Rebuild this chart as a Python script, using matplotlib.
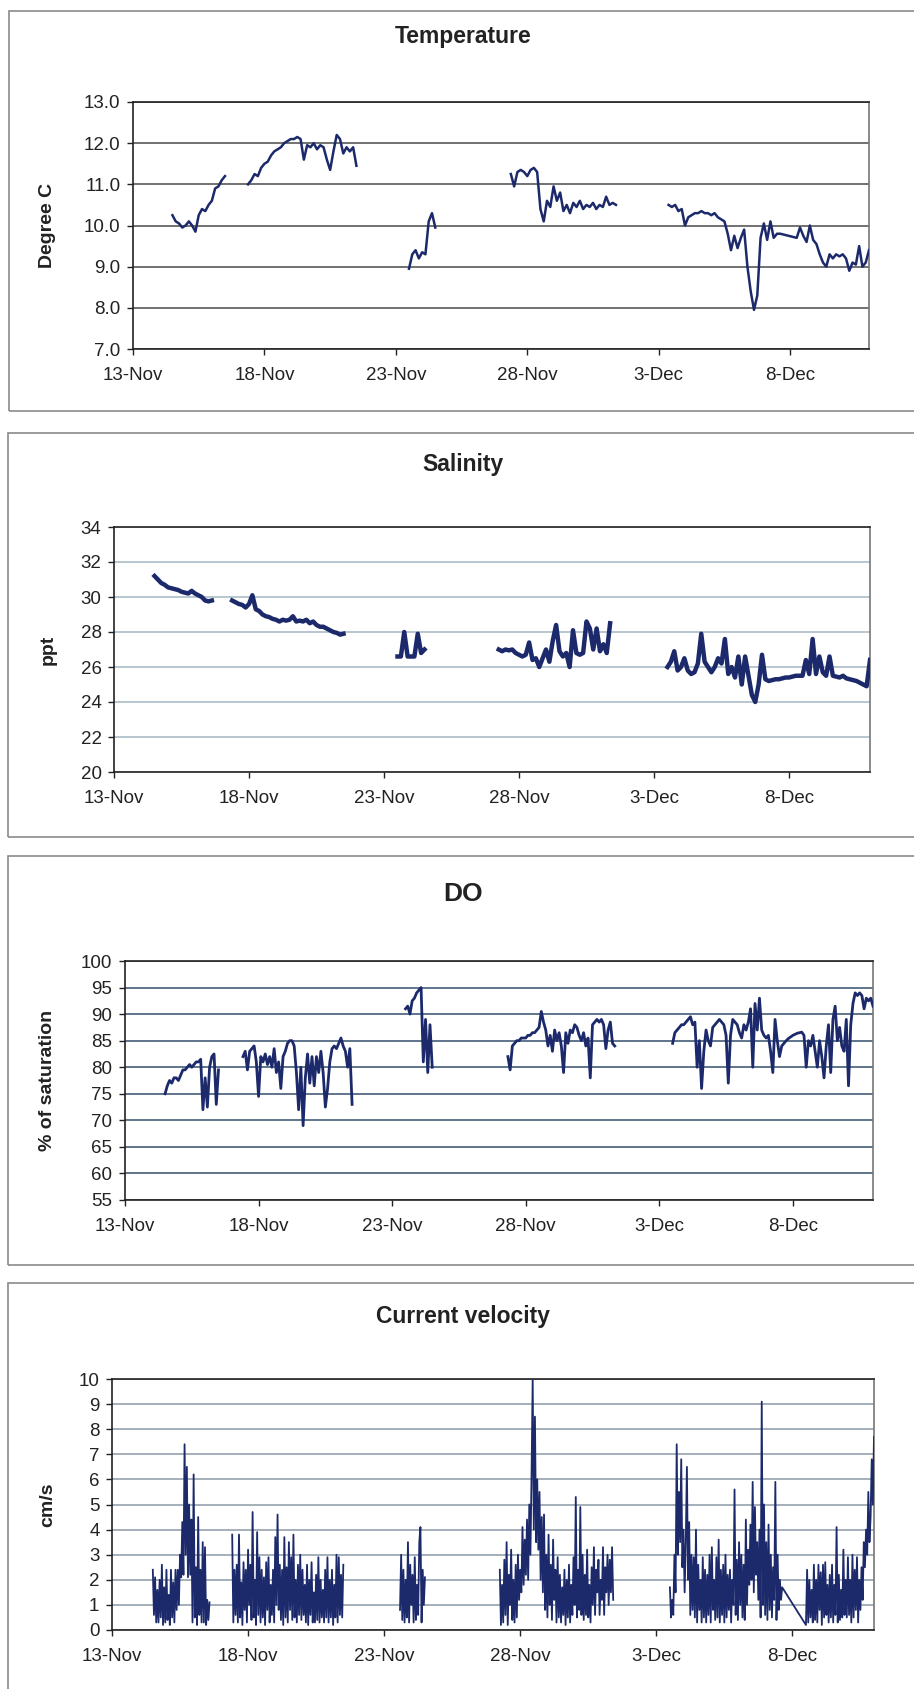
import matplotlib
matplotlib.use('Agg')
import matplotlib.pyplot as plt
import matplotlib.dates as mdates
from matplotlib.patches import Rectangle
import numpy as np
import pandas as pd

plt.rcParams['font.family'] = ['Liberation Sans', 'DejaVu Sans']

LINE = '#1c2a6b'

# --- data: each series is a list of logger segments (start time, fixed step) ---
temp_starts = ['2004-11-14 12:00', '2004-11-17 09:00', '2004-11-23 12:00',
               '2004-11-27 09:00', '2004-12-03 09:00']
temp_step_h = 3
temp_vals = [
    [10.25, 10.1, 10.05, 9.95, 10.0, 10.1, 10.0, 9.85, 10.25, 10.4, 10.35, 10.5,
     10.6, 10.9, 10.95, 11.1, 11.2],
    [11.0, 11.1, 11.25, 11.2, 11.4, 11.5, 11.55, 11.7, 11.8, 11.85, 11.9, 12.0,
     12.05, 12.1, 12.1, 12.15, 12.1, 11.6, 11.95, 11.9, 12.0, 11.85, 11.95, 11.9,
     11.6, 11.35, 11.8, 12.2, 12.1, 11.75, 11.9, 11.8, 11.9, 11.45],
    [8.95, 9.3, 9.4, 9.2, 9.35, 9.3, 10.1, 10.3, 9.95],
    [11.25, 10.95, 11.3, 11.35, 11.3, 11.2, 11.35, 11.4, 11.3, 10.4, 10.1, 10.6,
     10.45, 10.95, 10.6, 10.8, 10.35, 10.5, 10.3, 10.55, 10.45, 10.6, 10.4, 10.5,
     10.45, 10.55, 10.4, 10.5, 10.45, 10.7, 10.5, 10.55, 10.5],
    [10.5, 10.45, 10.5, 10.35, 10.4, 10.0, 10.2, 10.25, 10.3, 10.3, 10.35, 10.3,
     10.3, 10.25, 10.3, 10.2, 10.15, 10.1, 9.8, 9.4, 9.75, 9.45, 9.7, 9.9, 9.0,
     8.4, 7.95, 8.3, 9.7, 10.05, 9.65, 10.1, 9.7, 9.8, 9.8, 9.78, 9.76, 9.74,
     9.72, 9.7, 9.95, 9.75, 9.6, 10.0, 9.65, 9.55, 9.3, 9.1, 9.0, 9.3, 9.2, 9.3,
     9.25, 9.3, 9.2, 8.9, 9.1, 9.05, 9.5, 9.0, 9.1, 9.4],
]

sal_starts = ['2004-11-14 12:00', '2004-11-17 09:00', '2004-11-23 12:00',
              '2004-11-27 06:00', '2004-12-03 12:00']
sal_step_h = 3
sal_vals = [
    [31.2, 31.0, 30.8, 30.7, 30.55, 30.5, 30.45, 30.4, 30.3, 30.25, 30.2, 30.35,
     30.2, 30.1, 30.0, 29.8, 29.75, 29.8],
    [29.8, 29.7, 29.6, 29.55, 29.4, 29.6, 30.1, 29.3, 29.2, 29.0, 28.9, 28.85,
     28.75, 28.7, 28.6, 28.7, 28.65, 28.7, 28.9, 28.6, 28.65, 28.6, 28.7, 28.5,
     28.6, 28.4, 28.3, 28.3, 28.2, 28.1, 28.0, 27.95, 27.85, 27.9],
    [26.6, 26.6, 28.0, 26.6, 26.6, 26.6, 27.9, 26.8, 27.0],
    [27.0, 26.9, 27.0, 26.95, 27.0, 26.8, 26.7, 26.6, 26.7, 27.4, 26.4, 26.5,
     26.0, 26.5, 27.0, 26.3, 27.5, 28.4, 26.9, 26.6, 26.8, 26.0, 28.1, 26.8,
     26.7, 26.8, 28.6, 28.2, 27.0, 28.2, 26.9, 27.3, 26.8, 28.5],
    [26.0, 26.3, 26.9, 25.8, 26.0, 26.5, 25.8, 25.6, 25.7, 26.2, 27.9, 26.3,
     26.0, 25.7, 26.0, 26.5, 26.2, 27.6, 25.6, 26.0, 25.4, 26.6, 25.0, 26.6,
     25.5, 24.4, 24.0, 25.0, 26.7, 25.3, 25.2, 25.25, 25.3, 25.3, 25.35, 25.4,
     25.4, 25.45, 25.5, 25.5, 25.5, 26.4, 25.6, 27.6, 25.6, 26.6, 25.7, 25.5,
     26.6, 25.5, 25.45, 25.4, 25.5, 25.35, 25.3, 25.25, 25.2, 25.1, 25.0, 24.9,
     26.4],
]

do_starts = ['2004-11-14 12:00', '2004-11-17 10:00', '2004-11-23 12:00',
             '2004-11-27 08:00', '2004-12-03 12:00']
do_step_h = 2
do_vals = [
    [75, 76.5, 77.5, 77, 78, 78, 77.5, 78.5, 79.5, 79.5, 80, 80.5, 80, 80.5, 81,
     81, 81.5, 72, 78, 72.5, 80, 82, 82.5, 73, 79.5],
    [82, 83, 79.5, 83, 83.5, 84, 81, 74.5, 82, 81, 82.5, 80.5, 82, 80, 83.5, 79,
     81, 76, 82, 83, 84.5, 85, 85, 84, 79, 72, 80, 69, 78, 82.5, 77, 82, 76.5, 82,
     79, 83, 79, 72.5, 76, 81, 83.5, 84, 83.5, 84.5, 85.5, 84, 83, 80, 83.5, 73],
    [91, 91.5, 90, 92.5, 93, 94, 94.5, 95, 81, 89, 79, 88, 80],
    [82, 79.5, 84, 84.5, 85, 85, 85.5, 85.5, 85.5, 86, 86, 86.5, 86.5, 87, 87.5,
     90.5, 88.5, 87, 84, 86, 83, 87, 85, 86.5, 84, 79, 86.5, 84.5, 87, 86.5, 88,
     87.5, 86, 85, 86.5, 84, 85.5, 78, 88, 88.5, 89, 88.5, 89, 88, 83.5, 87, 88.5,
     84.5, 84],
    [84.5, 86.5, 87, 87.5, 88, 88, 88.5, 89, 89.5, 88, 88.5, 80, 85, 76, 83, 87,
     85, 84, 87.5, 88, 88.5, 89, 88.5, 88, 86, 77, 86, 89, 88.5, 88, 86.5, 85.5,
     88, 87, 88.5, 91, 80, 92, 87, 93, 87, 86, 85.5, 86, 83, 79, 89, 85, 82, 84,
     84.5, 85, 85.4, 85.7, 86, 86.2, 86.4, 86.5, 86.6, 86, 80, 85, 84, 86, 83, 80,
     85, 82, 78, 84, 88, 79, 89, 91.5, 85, 87.5, 84, 83, 89, 76.5, 88, 92, 94,
     93.5, 94, 93.5, 91, 93, 92.5, 93, 91.5],
]

cur_starts = ['2004-11-14 12:00', '2004-11-17 10:00', '2004-11-23 14:00',
              '2004-11-27 06:00', '2004-12-03 12:00', '2004-12-08 12:00']
cur_step_h = 1
cur_vals = [
    [2.4, 0.6, 2.1, 0.3, 1.6, 0.3, 2.0, 0.5, 2.6, 0.2, 1.7, 0.3,
     2.4, 0.4, 1.4, 0.2, 2.4, 0.5, 1.9, 0.3, 2.4, 0.8, 2.4, 1.0,
     3.0, 2.1, 4.3, 2.2, 7.4, 3.0, 6.5, 2.1, 5.0, 2.2, 4.4, 0.3,
     6.2, 0.5, 2.5, 0.2, 4.5, 0.6, 2.4, 0.3, 3.5, 0.3, 3.3, 0.2,
     1.2, 0.4, 1.1],
    [3.8, 0.3, 2.4, 0.6, 2.6, 0.3, 3.8, 0.5, 1.9, 0.2, 2.7, 0.8,
     2.4, 0.3, 3.2, 1.0, 2.6, 0.4, 4.7, 0.5, 2.0, 0.2, 3.9, 0.6,
     2.9, 0.3, 2.4, 0.5, 2.1, 0.2, 2.7, 0.8, 2.9, 0.3, 1.8, 0.6,
     2.4, 0.3, 3.7, 1.0, 4.6, 0.8, 2.6, 0.4, 2.4, 0.2, 3.7, 0.5,
     2.5, 0.3, 3.5, 0.8, 2.9, 0.4, 3.8, 0.5, 2.0, 0.3, 2.6, 0.6,
     3.0, 0.4, 2.4, 0.6, 1.8, 0.3, 2.6, 0.2, 2.0, 0.6, 2.7, 0.3,
     1.5, 0.3, 2.2, 0.4, 2.9, 0.3, 2.0, 0.5, 1.6, 0.3, 2.4, 0.5,
     2.9, 0.3, 2.0, 0.5, 2.4, 0.2, 1.8, 0.5, 3.0, 0.3, 2.9, 0.6,
     2.2, 0.5, 2.6],
    [0.8, 3.0, 0.4, 2.4, 0.3, 2.0, 0.5, 3.5, 0.3, 2.6, 1.0, 2.2,
     0.3, 2.9, 0.4, 1.8, 0.6, 3.5, 4.1, 0.3, 2.4, 1.0, 2.1],
    [2.4, 0.2, 1.8, 0.3, 2.8, 0.6, 3.5, 0.2, 2.2, 1.0, 3.2, 0.4,
     2.0, 0.3, 2.6, 0.5, 3.0, 1.2, 2.4, 1.5, 4.1, 1.8, 3.6, 2.2,
     4.4, 2.0, 5.0, 3.0, 6.2, 10.0, 4.0, 8.5, 3.5, 6.0, 3.2, 5.5,
     2.0, 4.5, 1.5, 4.6, 0.8, 3.0, 0.5, 3.8, 1.0, 2.6, 0.4, 3.6,
     1.2, 2.4, 0.3, 2.9, 0.5, 2.2, 0.3, 1.7, 0.6, 2.4, 0.2, 2.0,
     0.5, 2.6, 0.3, 1.8, 0.6, 2.9, 1.0, 5.3, 0.5, 2.4, 0.8, 4.9,
     0.6, 3.0, 0.4, 2.2, 0.6, 3.2, 0.5, 1.8, 0.3, 2.5, 1.0, 3.3,
     0.6, 2.4, 1.5, 2.8, 0.6, 2.0, 1.2, 3.3, 0.6, 2.5, 1.5, 3.0,
     1.0, 2.8, 1.5, 3.3, 1.2],
    [1.7, 0.5, 1.2, 0.6, 3.0, 1.5, 7.4, 3.0, 5.5, 3.5, 6.8, 2.5,
     4.0, 1.5, 3.5, 6.5, 2.0, 4.3, 0.6, 3.0, 0.8, 2.9, 0.5, 4.0,
     0.3, 2.6, 0.8, 2.0, 0.3, 2.9, 0.5, 2.4, 0.3, 2.2, 0.6, 3.0,
     0.3, 3.3, 0.8, 2.0, 0.4, 2.9, 0.5, 3.6, 0.3, 2.4, 0.6, 2.6,
     0.3, 3.0, 0.5, 2.2, 0.8, 2.4, 0.3, 2.0, 1.0, 5.6, 0.6, 2.8,
     0.4, 3.5, 1.0, 3.0, 0.5, 2.6, 0.4, 4.4, 1.0, 3.2, 1.8, 4.2,
     2.0, 5.9, 1.5, 4.9, 2.2, 3.5, 1.2, 4.0, 0.5, 9.1, 1.0, 5.0,
     0.6, 3.5, 0.4, 4.2, 0.8, 3.0, 0.5, 2.5, 1.2, 5.9, 0.4, 3.0,
     0.8, 2.0, 1.2, 1.7],
    [0.2, 2.4, 0.3, 2.0, 0.5, 1.6, 0.3, 2.6, 0.4, 2.0, 0.3, 2.6,
     0.8, 2.3, 0.2, 2.6, 0.5, 2.7, 0.6, 1.8, 0.3, 2.2, 0.5, 2.6,
     0.3, 1.8, 0.6, 4.1, 0.3, 2.2, 0.4, 1.6, 0.5, 3.2, 0.6, 2.0,
     0.5, 2.9, 0.6, 2.0, 0.3, 3.0, 0.5, 2.4, 0.8, 2.9, 0.3, 2.0,
     0.8, 2.5, 1.2, 3.5, 2.5, 4.0, 3.0, 5.5, 3.5, 4.5, 6.8, 5.0,
     7.7],
]
# logger gap on 7-8 Dec is bridged by the chart's connecting line
cur_groups = [[0], [1], [2], [3], [4, 5]]

x_start = pd.Timestamp('2004-11-13')
x_end = pd.Timestamp('2004-12-11')
x_ticks = pd.date_range('2004-11-13', periods=6, freq='5D')

W, H = 914, 1689


def px_rect(l, t, r, b):
    return [l / W, 1 - b / H, (r - l) / W, (b - t) / H]


def seg_times(start, n, step_h):
    return pd.Timestamp(start) + pd.to_timedelta(np.arange(n) * step_h, unit='h')


fig = plt.figure(figsize=(W / 100, H / 100), dpi=100)

panels = [
    dict(title='Temperature', tsize=16.5, ylabel='Degree C', ylim=(7, 13), ystep=1,
         fmt='%.1f', grid='#4a4a4a', lw=1.8, starts=temp_starts, step=temp_step_h,
         vals=temp_vals, ax=(133, 102, 869, 349), box=(9, 11, 930, 411), ty=37),
    dict(title='Salinity', tsize=16.5, ylabel='ppt', ylim=(20, 34), ystep=2, fmt='%d',
         grid='#a3b6c2', lw=3.2, starts=sal_starts, step=sal_step_h, vals=sal_vals,
         ax=(114, 527, 870, 772), box=(8, 433, 930, 837), ty=464),
    dict(title='DO', tsize=19, ylabel='% of saturation', ylim=(55, 100), ystep=5,
         fmt='%d', grid='#34506e', lw=2.0, starts=do_starts, step=do_step_h,
         vals=do_vals, ax=(125, 961, 873, 1200), box=(8, 856, 930, 1265), ty=894),
    dict(title='Current velocity', tsize=16.5, ylabel='cm/s', ylim=(0, 10), ystep=1,
         fmt='%d', grid='#8c9aa8', lw=1.3, starts=cur_starts, step=cur_step_h,
         vals=cur_vals, groups=cur_groups,
         ax=(112, 1379, 874, 1630), box=(8, 1283, 930, 1700), ty=1317),
]

for p in panels:
    # outer frame of the panel
    bl, bt, br, bb = p['box']
    fig.patches.append(Rectangle((bl / W, 1 - bb / H), (br - bl) / W, (bb - bt) / H,
                                 transform=fig.transFigure, fill=False,
                                 edgecolor='#8a8a8a', linewidth=1.2))

    ax = fig.add_axes(px_rect(*p['ax']))
    groups = p.get('groups', [[i] for i in range(len(p['vals']))])
    for g in groups:
        t = np.concatenate([seg_times(p['starts'][i], len(p['vals'][i]), p['step']).values
                            for i in g])
        v = np.concatenate([p['vals'][i] for i in g])
        ax.plot(t, v, color=LINE, linewidth=p['lw'], zorder=3)

    ax.set_xlim(x_start, x_end)
    ax.set_ylim(*p['ylim'])
    ax.set_yticks(np.arange(p['ylim'][0], p['ylim'][1] + 0.01, p['ystep']))
    ax.yaxis.set_major_formatter(matplotlib.ticker.FormatStrFormatter(p['fmt']))
    ax.set_xticks(x_ticks)
    ax.xaxis.set_major_formatter(mdates.DateFormatter('%-d-%b'))

    ax.grid(axis='y', color=p['grid'], linewidth=1.1, zorder=1)
    ax.set_axisbelow(True)
    ax.tick_params(axis='both', direction='out', length=4, width=1, labelsize=13.5,
                   colors='#222222')
    ax.tick_params(axis='x', pad=9)
    ax.tick_params(axis='y', pad=5)
    for s in ax.spines.values():
        s.set_color('#222222')
        s.set_linewidth(1.2)
    ax.spines['right'].set_color('#777777')

    fig.text(0.507, 1 - p['ty'] / H, p['title'], ha='center', va='center',
             fontsize=p['tsize'], fontweight='bold', color='#222222')
    ay = p['ax']
    fig.text(48 / W, 1 - (ay[1] + ay[3]) / 2 / H, p['ylabel'], rotation=90,
             ha='center', va='center', fontsize=14, fontweight='bold', color='#222222')

fig.savefig('out.png', dpi=100)
plt.close(fig)
